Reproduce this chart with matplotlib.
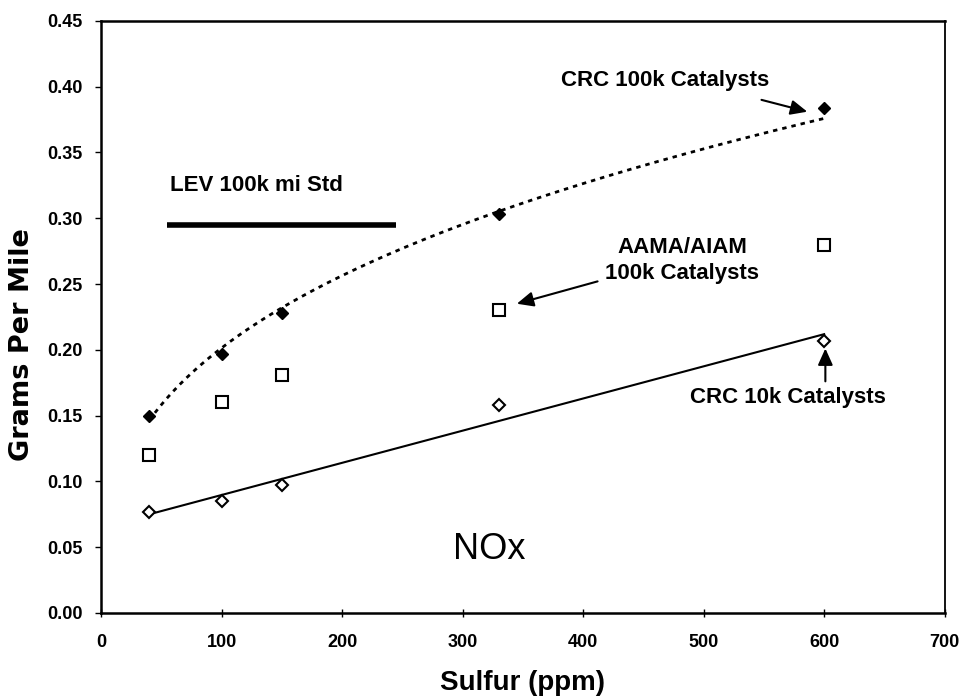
import numpy as np
import matplotlib
matplotlib.use("Agg")
import matplotlib.pyplot as plt


# -----------------------------
# Data
# -----------------------------
sulfur = [40, 100, 150, 330, 600]
crc_100k = [0.150, 0.197, 0.228, 0.303, 0.384]
aama_100k = [0.120, 0.160, 0.181, 0.230, 0.280]
crc_10k = [0.077, 0.085, 0.097, 0.158, 0.207]

lev_std = 0.295
lev_range = [55, 245]

x_ticks = [0, 100, 200, 300, 400, 500, 600, 700]
y_ticks = [0.00, 0.05, 0.10, 0.15, 0.20, 0.25, 0.30, 0.35, 0.40, 0.45]

FONT = "Liberation Sans"
INK = "black"
NOTE_SIZE = 16

plt.rcParams["font.family"] = [FONT, "DejaVu Sans"]
plt.rcParams["font.weight"] = "bold"

fig = plt.figure(figsize=(9.62, 6.98), dpi=100)
ax = fig.add_axes([0.105, 0.122, 0.877, 0.848])

# trend lines (power fit for CRC 100k, linear for CRC 10k)
xs = np.array(sulfur, dtype=float)
b, ln_a = np.polyfit(np.log(xs), np.log(crc_100k), 1)
x_fit = np.linspace(min(sulfur), max(sulfur), 200)
ax.plot(x_fit, np.exp(ln_a) * x_fit ** b, color=INK, linewidth=2,
        linestyle=(0, (1.6, 1.8)))

m, c = np.polyfit(xs, crc_10k, 1)
ax.plot(x_fit, m * x_fit + c, color=INK, linewidth=1.5)

# data points
ax.plot(sulfur, crc_100k, linestyle="none", marker="D", markersize=6,
        color=INK)
ax.plot(sulfur, aama_100k, linestyle="none", marker="s", markersize=8,
        markerfacecolor="white", markeredgecolor=INK, markeredgewidth=1.5)
ax.plot(sulfur, crc_10k, linestyle="none", marker="D", markersize=6,
        markerfacecolor="white", markeredgecolor=INK, markeredgewidth=1.5)

# LEV standard
ax.plot(lev_range, [lev_std, lev_std], color=INK, linewidth=4,
        solid_capstyle="butt")
ax.text(57, 0.325, "LEV 100k mi Std", fontsize=NOTE_SIZE, fontweight="bold",
        ha="left", va="center")

# annotations
arrow = dict(arrowstyle="-|>,head_length=1.0,head_width=0.45",
             color=INK, linewidth=1.5, shrinkA=0, shrinkB=0)

ax.text(468, 0.405, "CRC 100k Catalysts", fontsize=NOTE_SIZE,
        fontweight="bold", ha="center", va="center")
ax.annotate("", xy=(586, 0.381), xytext=(548, 0.390), arrowprops=arrow)

ax.text(482, 0.268, "AAMA/AIAM\n100k Catalysts", fontsize=NOTE_SIZE,
        fontweight="bold", ha="center", va="center", linespacing=1.35)
ax.annotate("", xy=(345, 0.235), xytext=(412, 0.252), arrowprops=arrow)

ax.text(570, 0.164, "CRC 10k Catalysts", fontsize=NOTE_SIZE,
        fontweight="bold", ha="center", va="center")
ax.annotate("", xy=(601, 0.201), xytext=(601, 0.176), arrowprops=arrow)

ax.text(322, 0.048, "NOx", fontsize=26, fontweight="normal",
        ha="center", va="center")

# axes
ax.set_xlim(0, 700)
ax.set_ylim(0, 0.45)
ax.set_xticks(x_ticks)
ax.set_yticks(y_ticks)
ax.set_yticklabels([f"{v:.2f}" for v in y_ticks])
ax.tick_params(axis="x", direction="inout", length=6, width=1, pad=12,
               labelsize=13)
ax.tick_params(axis="y", direction="out", length=4, width=1, pad=9,
               labelsize=13)
for lbl in ax.get_xticklabels() + ax.get_yticklabels():
    lbl.set_fontweight("bold")

for side in ["left", "bottom", "top"]:
    ax.spines[side].set_linewidth(1.8)
ax.spines["right"].set_linewidth(1.3)

# axis titles placed in figure pixels
fig.text(523 / 962, 1 - 683 / 698, "Sulfur (ppm)", fontsize=20,
         fontweight="bold", ha="center", va="center")
fig.text(22 / 962, 1 - 345 / 698, "Grams Per Mile", fontsize=19.5,
         fontweight="bold", family=["DejaVu Sans"], rotation=90,
         ha="center", va="center")

plt.savefig("out.png", dpi=100)
plt.close()
